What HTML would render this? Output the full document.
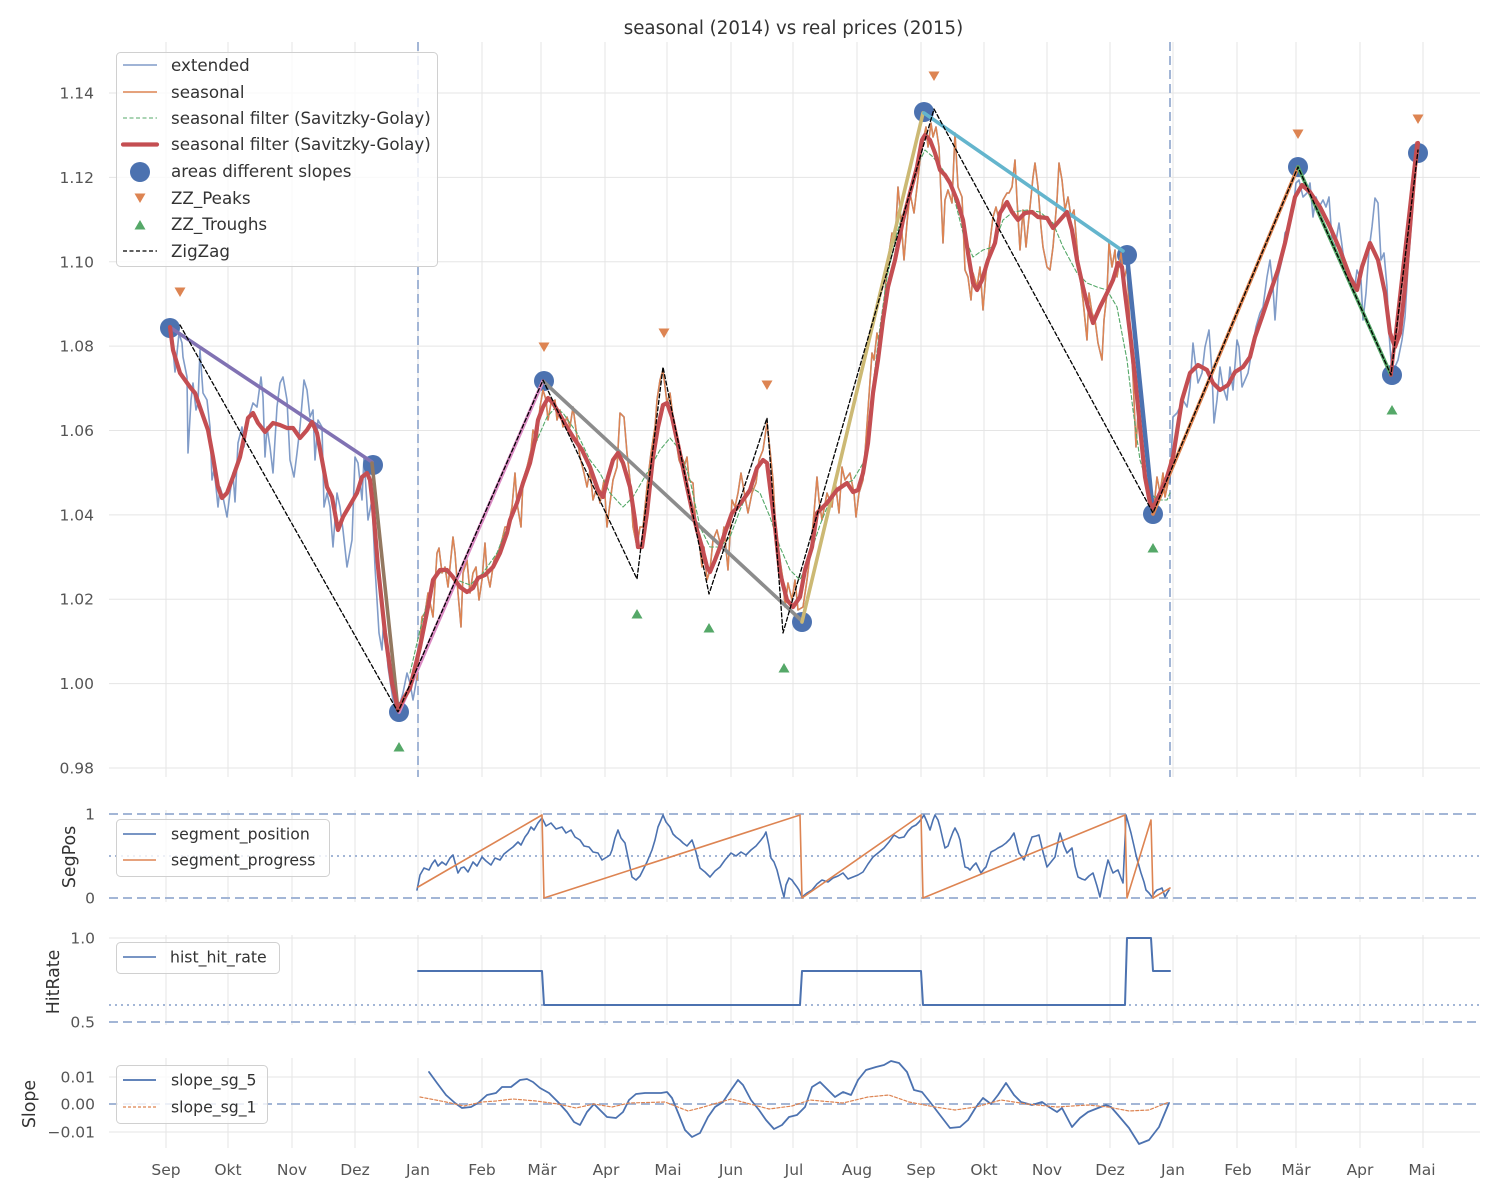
<!DOCTYPE html>
<html><head><meta charset="utf-8"><style>
html,body{margin:0;padding:0;background:#fff;}
svg{display:block;font-family:"DejaVu Sans","Liberation Sans",sans-serif;}
.tk{fill:#555;font-size:15.5px;}
.lg{fill:#333;font-size:16.7px;}
.lg2{fill:#333;font-size:15.7px;}
.yl{fill:#333;font-size:17.4px;}
.gr{stroke:#e5e5e5;stroke-width:1;}
.ds{stroke:#a3b6d6;stroke-width:2;stroke-dasharray:9,5;fill:none;}
.dt{stroke:#a3b6d6;stroke-width:2;stroke-dasharray:2,4;fill:none;}
polyline{fill:none;stroke-linejoin:round;stroke-linecap:round;}
</style></head><body>
<svg width="1500" height="1200" viewBox="0 0 1500 1200" xmlns="http://www.w3.org/2000/svg">
<rect width="1500" height="1200" fill="#fff"/>
<!-- title -->
<text x="793.5" y="34" text-anchor="middle" fill="#333" font-size="18.2px">seasonal (2014) vs real prices (2015)</text>

<!-- MAIN grid -->
<g class="gr">
<line x1="109" y1="93" x2="1480" y2="93"/><line x1="109" y1="177.4" x2="1480" y2="177.4"/><line x1="109" y1="261.8" x2="1480" y2="261.8"/><line x1="109" y1="346.1" x2="1480" y2="346.1"/><line x1="109" y1="430.5" x2="1480" y2="430.5"/><line x1="109" y1="514.9" x2="1480" y2="514.9"/><line x1="109" y1="599.2" x2="1480" y2="599.2"/><line x1="109" y1="683.6" x2="1480" y2="683.6"/><line x1="109" y1="768" x2="1480" y2="768"/>
</g>
<g id="vg">
<g class="gr">
<line x1="166" y1="42" x2="166" y2="777"/><line x1="228" y1="42" x2="228" y2="777"/><line x1="292" y1="42" x2="292" y2="777"/><line x1="355" y1="42" x2="355" y2="777"/><line x1="418" y1="42" x2="418" y2="777"/><line x1="482" y1="42" x2="482" y2="777"/><line x1="541" y1="42" x2="541" y2="777"/><line x1="605" y1="42" x2="605" y2="777"/><line x1="667" y1="42" x2="667" y2="777"/><line x1="731" y1="42" x2="731" y2="777"/><line x1="793" y1="42" x2="793" y2="777"/><line x1="857" y1="42" x2="857" y2="777"/><line x1="921" y1="42" x2="921" y2="777"/><line x1="984" y1="42" x2="984" y2="777"/><line x1="1047" y1="42" x2="1047" y2="777"/><line x1="1110" y1="42" x2="1110" y2="777"/><line x1="1173" y1="42" x2="1173" y2="777"/><line x1="1237" y1="42" x2="1237" y2="777"/><line x1="1296" y1="42" x2="1296" y2="777"/><line x1="1360" y1="42" x2="1360" y2="777"/><line x1="1423" y1="42" x2="1423" y2="777"/>
</g>
</g>
<!-- y ticks main -->
<g class="tk" text-anchor="end">
<text x="94" y="98.5">1.14</text><text x="94" y="183">1.12</text><text x="94" y="267.3">1.10</text><text x="94" y="351.6">1.08</text><text x="94" y="436">1.06</text><text x="94" y="520.4">1.04</text><text x="94" y="604.7">1.02</text><text x="94" y="689.1">1.00</text><text x="94" y="773.5">0.98</text>
</g>
<!-- vertical dashed -->
<line class="ds" x1="418" y1="42" x2="418" y2="777"/>
<line class="ds" x1="1170" y1="42" x2="1170" y2="777"/>

<!-- dots -->
<g fill="#4c72b0">
<circle cx="170" cy="328" r="10"/><circle cx="373" cy="465" r="10"/><circle cx="399" cy="712" r="10"/><circle cx="544" cy="381" r="10"/><circle cx="802" cy="622" r="10"/><circle cx="924" cy="112" r="10"/><circle cx="1127" cy="255" r="10"/><circle cx="1153" cy="514" r="10"/><circle cx="1298" cy="167" r="10"/><circle cx="1392" cy="375" r="10"/><circle cx="1418" cy="153" r="10"/>
</g>

<!-- extended (blue) -->
<polyline stroke="#4c72b0" stroke-opacity="0.7" stroke-width="1.6" points="170,327 173,350 175,372 177,353 179,333 182,343 183,357 187,377 188,453 191,400 193,383 196,410 198,403 200,350 203,393 207,400 210,427 212,480 214,470 216,487 218,507 220,487 223,497 227,517 230,493 233,473 235,502 238,443 242,427 244,447 247,427 250,413 253,403 257,407 261,377 263,397 265,457 267,427 270,447 273,473 277,407 280,383 283,377 287,400 290,460 294,477 297,453 300,427 304,380 307,390 310,417 313,410 315,460 318,420 322,427 324,507 327,493 330,507 333,547 337,493 340,507 343,530 347,567 352,540 355,457 358,463 362,500 364,457 368,520 372,500 375,567 379,633 382,650 384,613 388,667 393,700 398,710 403,693 407,673 410,683 413,700 417,677 420,640 422,617 425,613 428,593 433,617 437,553 439,548 442,573 445,567 448,587 453,537 455,553 458,593 461,627 463,573 467,560 470,593 473,573 476,567 479,600 482,580 485,543 487,573 490,587 494,560 498,553 502,540 505,527 508,527 512,507 515,473 517,503 521,527 523,480 527,467 531,450 533,430 537,440 540,407 543,390 546,400 548,420 551,403 555,400 557,420 560,410 563,427 567,417 570,427 573,407 577,437 580,457 584,473 587,487 590,470 593,500 597,487 600,503 604,480 607,527 610,503 613,480 617,467 620,413 624,417 627,453 630,480 633,527 637,547 640,527 643,527 647,487 651,453 655,427 657,400 660,380 663,370 667,403 670,393 673,417 676,440 679,460 683,470 687,457 689,480 693,483 696,527 699,540 702,567 704,547 707,580 710,570 713,540 717,530 721,547 724,527 728,570 732,500 735,507 738,493 741,473 745,497 748,513 752,493 756,483 759,460 763,450 767,423 770,450 773,480 776,533 779,553 783,580 785,607 788,583 792,600 795,580 798,610 803,607 807,580 811,547 814,513 817,477 819,500 822,520 827,493 832,507 835,480 839,513 842,467 845,480 850,473 854,493 856,517 859,493 863,480 865,453 868,410 872,353 874,360 877,333 880,347 883,320 886,280 889,253 892,233 895,243 898,187 901,220 904,260 907,223 910,193 914,213 917,187 920,160 923,140 926,127 928,147 931,123 933,137 936,127 939,147 943,243 945,200 948,190 952,203 955,133 958,187 962,197 965,270 968,277 971,300 973,273 977,287 980,267 983,310 986,273 989,250 993,217 996,207 999,220 1003,200 1007,193 1009,193 1012,187 1015,160 1017,200 1020,250 1023,210 1026,247 1029,217 1033,177 1035,163 1038,187 1041,227 1043,247 1047,267 1050,270 1053,247 1057,200 1059,163 1062,180 1065,210 1068,197 1071,217 1074,210 1077,247 1080,277 1083,300 1087,340 1089,293 1092,313 1095,320 1098,343 1102,360 1104,320 1107,293 1109,243 1112,267 1115,250 1117,277 1121,253 1124,280 1127,267 1130,327 1133,377 1136,447 1138,413 1142,447 1145,467 1148,493 1152,503 1155,497 1157,477 1160,493 1163,473 1165,497 1168,483 1170,483 1173,417 1177,413 1180,407 1183,400 1187,407 1190,387 1193,343 1195,360 1198,383 1202,373 1205,347 1209,330 1212,373 1214,423 1217,400 1220,367 1223,387 1227,400 1230,367 1233,390 1237,340 1239,347 1242,387 1245,380 1248,373 1252,350 1256,327 1260,313 1263,307 1267,277 1270,260 1273,287 1275,320 1278,277 1282,260 1285,233 1289,227 1293,210 1296,183 1299,180 1303,197 1307,193 1310,183 1313,217 1316,197 1319,207 1323,200 1326,207 1329,197 1332,240 1335,247 1339,223 1343,253 1347,273 1351,280 1354,293 1357,270 1361,280 1363,320 1366,293 1369,250 1372,227 1375,198 1378,203 1381,260 1384,253 1387,287 1389,333 1392,373 1395,367 1398,360 1402,340 1405,317 1408,267 1412,217 1415,173 1417,153"/>

<!-- seasonal (orange) -->
<polyline stroke="#dd8452" stroke-width="1.5" points="417,680 420,640 422,617 425,613 428,593 433,617 437,553 439,548 442,573 445,567 448,587 453,537 455,553 458,593 461,627 463,573 467,560 470,593 473,573 476,567 479,600 482,580 485,543 487,573 490,587 494,560 498,553 502,540 505,527 508,527 512,507 515,473 517,503 521,527 523,480 527,467 531,450 533,430 537,440 540,407 543,390 546,400 548,420 551,403 555,400 557,420 560,410 563,427 567,417 570,427 573,407 577,437 580,457 584,473 587,487 590,470 593,500 597,487 600,503 604,480 607,527 610,503 613,480 617,467 620,413 624,417 627,453 630,480 633,527 637,547 640,527 643,527 647,487 651,453 655,427 657,400 660,380 663,370 667,403 670,393 673,417 676,440 679,460 683,470 687,457 689,480 693,483 696,527 699,540 702,567 704,547 707,580 710,570 713,540 717,530 721,547 724,527 728,570 732,500 735,507 738,493 741,473 745,497 748,513 752,493 756,483 759,460 763,450 767,423 770,450 773,480 776,533 779,553 783,580 785,607 788,583 792,600 795,580 798,610 803,607 807,580 811,547 814,513 817,477 819,500 822,520 827,493 832,507 835,480 839,513 842,467 845,480 850,473 854,493 856,517 859,493 863,480 865,453 868,410 872,353 874,360 877,333 880,347 883,320 886,280 889,253 892,233 895,243 898,187 901,220 904,260 907,223 910,193 914,213 917,187 920,160 923,140 926,127 928,147 931,123 933,137 936,127 939,147 943,243 945,200 948,190 952,203 955,133 958,187 962,197 965,270 968,277 971,300 973,273 977,287 980,267 983,310 986,273 989,250 993,217 996,207 999,220 1003,200 1007,193 1009,193 1012,187 1015,160 1017,200 1020,250 1023,210 1026,247 1029,217 1033,177 1035,163 1038,187 1041,227 1043,247 1047,267 1050,270 1053,247 1057,200 1059,163 1062,180 1065,210 1068,197 1071,217 1074,210 1077,247 1080,277 1083,300 1087,340 1089,293 1092,313 1095,320 1098,343 1102,360 1104,320 1107,293 1109,243 1112,267 1115,250 1117,277 1121,253 1124,280 1127,267 1130,327 1133,377 1136,447 1138,413 1142,447 1145,467 1148,493 1152,503 1155,497 1157,477 1160,493 1163,473 1165,497 1168,483 1170,460"/>

<!-- green dashed SG -->
<polyline stroke="#55a868" stroke-width="1.1" stroke-dasharray="4,2.5" points="410,673 420,630 433,580 443,570 457,580 470,585 483,573 497,553 510,520 523,480 537,440 547,417 555,408 563,413 577,433 590,460 600,473 610,493 623,507 633,497 647,473 660,450 670,438 680,450 690,480 700,527 710,547 720,547 730,537 740,510 750,487 760,493 770,517 780,547 790,570 800,580 810,555 820,525 830,500 840,487 853,480 865,460 872,393 880,327 887,277 897,233 907,200 917,167 925,150 933,157 943,170 953,193 963,233 973,257 983,250 993,247 1003,220 1013,212 1027,210 1040,212 1053,223 1063,247 1077,273 1087,283 1097,287 1107,290 1117,307 1127,360 1133,410 1140,460 1150,493 1158,500 1167,500 1170,493"/>

<!-- segments -->
<g stroke-width="3.6" stroke-linecap="round">
<line x1="171" y1="328" x2="372" y2="462" stroke="#8172b3"/>
<line x1="372" y1="463" x2="398" y2="710" stroke="#937860"/>
<line x1="399" y1="712" x2="543" y2="381" stroke="#da8bc3"/>
<line x1="544" y1="382" x2="802" y2="621" stroke="#8c8c8c"/>
<line x1="802" y1="622" x2="923" y2="113" stroke="#ccb974"/>
<line x1="924" y1="113" x2="1123" y2="251" stroke="#64b5cd"/>
<line x1="1127" y1="256" x2="1153" y2="513" stroke="#4c72b0" stroke-width="4.5"/>
<line x1="1153" y1="514" x2="1298" y2="167" stroke="#dd8452"/>
<line x1="1298" y1="167" x2="1391" y2="375" stroke="#55a868"/>
<line x1="1391" y1="375" x2="1417" y2="143" stroke="#c44e52"/>
</g>

<!-- red SG thick -->
<polyline stroke="#c44e52" stroke-width="4.2" points="170,327 173,350 180,373 190,387 195,393 202,413 208,430 213,457 218,487 222,498 227,493 233,477 240,457 245,433 248,418 253,413 258,423 265,432 273,423 280,425 287,428 293,428 300,438 307,430 312,422 317,433 322,460 327,487 332,497 338,530 343,517 350,505 357,493 362,477 367,473 370,480 373,507 378,567 385,633 392,683 398,710 404,698 410,688 420,647 428,607 433,580 440,570 447,570 453,577 460,587 467,592 473,588 478,578 485,575 493,567 500,553 507,533 510,520 517,503 523,483 530,463 535,440 538,420 543,407 548,398 553,403 560,415 567,427 573,437 582,450 590,467 598,490 603,497 608,477 613,460 618,453 623,463 630,487 635,520 638,547 642,547 647,513 653,457 658,427 663,405 667,403 672,417 677,440 682,463 687,487 692,510 697,530 702,547 707,567 710,572 715,560 720,547 727,527 732,513 737,508 743,500 750,490 757,468 763,460 767,463 770,487 775,527 780,573 787,600 793,607 800,597 805,570 812,547 817,513 827,503 837,490 847,483 853,492 858,490 863,473 868,443 873,393 878,360 883,320 888,287 895,260 903,220 910,193 917,167 922,140 925,135 930,140 935,153 940,170 945,175 950,183 957,200 963,220 968,253 973,283 977,290 982,280 988,260 995,243 1000,213 1007,202 1012,212 1018,220 1025,213 1032,212 1038,217 1047,218 1053,228 1060,220 1067,212 1072,230 1077,260 1083,287 1088,307 1093,323 1100,307 1107,293 1113,280 1118,263 1122,267 1125,293 1130,333 1135,377 1140,427 1145,477 1150,503 1153,508 1160,493 1167,477 1173,457 1182,400 1190,373 1198,365 1207,370 1213,383 1220,390 1228,385 1235,372 1243,367 1250,357 1255,337 1262,317 1270,293 1278,270 1285,243 1290,220 1295,197 1302,185 1310,192 1320,207 1330,227 1340,250 1350,277 1357,290 1362,267 1370,243 1378,260 1385,293 1390,333 1395,347 1400,333 1405,287 1410,227 1415,167 1418,143"/>

<!-- zigzag -->
<polyline stroke="#000" stroke-width="1.3" stroke-dasharray="4,2.5" stroke-linecap="butt" points="180,325 398,712 543,380 637,579 663,367 709,594 767,418 783,633 934,109 1153,513 1298,167 1391,375 1418,150"/>

<!-- peaks -->
<g fill="#dd8452">
<path d="M174.5,287.5 L185.5,287.5 L180,297 Z"/>
<path d="M538.5,342.5 L549.5,342.5 L544,352 Z"/>
<path d="M658.5,328.5 L669.5,328.5 L664,338 Z"/>
<path d="M761.5,380.5 L772.5,380.5 L767,390 Z"/>
<path d="M928.5,71.5 L939.5,71.5 L934,81 Z"/>
<path d="M1292.5,129.5 L1303.5,129.5 L1298,139 Z"/>
<path d="M1412.5,114.5 L1423.5,114.5 L1418,124 Z"/>
</g>
<!-- troughs -->
<g fill="#55a868">
<path d="M393.5,751.5 L404.5,751.5 L399,742 Z"/>
<path d="M631.5,618.5 L642.5,618.5 L637,609 Z"/>
<path d="M703.5,632.5 L714.5,632.5 L709,623 Z"/>
<path d="M778.5,672.5 L789.5,672.5 L784,663 Z"/>
<path d="M1147.5,552.5 L1158.5,552.5 L1153,543 Z"/>
<path d="M1386.5,414.5 L1397.5,414.5 L1392,405 Z"/>
</g>

<!-- main legend -->
<rect x="116.5" y="52.5" width="321" height="214" rx="4" fill="#fff" fill-opacity="0.8" stroke="#d0d0d0"/>
<line x1="123" y1="65" x2="157" y2="65" stroke="#4c72b0" stroke-opacity="0.7" stroke-width="1.6"/>
<line x1="123" y1="92" x2="157" y2="92" stroke="#dd8452" stroke-width="1.5"/>
<line x1="123" y1="118" x2="157" y2="118" stroke="#55a868" stroke-width="1.1" stroke-dasharray="4,2.5"/>
<line x1="123" y1="144.5" x2="157" y2="144.5" stroke="#c44e52" stroke-width="4.2" stroke-linecap="round"/>
<circle cx="140" cy="172" r="10" fill="#4c72b0"/>
<path d="M134.5,193.5 L145.5,193.5 L140,203 Z" fill="#dd8452"/>
<path d="M134.5,229.5 L145.5,229.5 L140,220 Z" fill="#55a868"/>
<line x1="123" y1="251" x2="157" y2="251" stroke="#000" stroke-width="1.3" stroke-dasharray="4,2.5"/>
<g class="lg">
<text x="171" y="71">extended</text>
<text x="171" y="98">seasonal</text>
<text x="171" y="124">seasonal filter (Savitzky-Golay)</text>
<text x="171" y="150">seasonal filter (Savitzky-Golay)</text>
<text x="171" y="177">areas different slopes</text>
<text x="171" y="204">ZZ_Peaks</text>
<text x="171" y="230">ZZ_Troughs</text>
<text x="171" y="257">ZigZag</text>
</g>

<!-- ===== SegPos panel ===== -->
<g class="gr">
<line x1="166" y1="810" x2="166" y2="902"/><line x1="228" y1="810" x2="228" y2="902"/><line x1="292" y1="810" x2="292" y2="902"/><line x1="355" y1="810" x2="355" y2="902"/><line x1="418" y1="810" x2="418" y2="902"/><line x1="482" y1="810" x2="482" y2="902"/><line x1="541" y1="810" x2="541" y2="902"/><line x1="605" y1="810" x2="605" y2="902"/><line x1="667" y1="810" x2="667" y2="902"/><line x1="731" y1="810" x2="731" y2="902"/><line x1="793" y1="810" x2="793" y2="902"/><line x1="857" y1="810" x2="857" y2="902"/><line x1="921" y1="810" x2="921" y2="902"/><line x1="984" y1="810" x2="984" y2="902"/><line x1="1047" y1="810" x2="1047" y2="902"/><line x1="1110" y1="810" x2="1110" y2="902"/><line x1="1173" y1="810" x2="1173" y2="902"/><line x1="1237" y1="810" x2="1237" y2="902"/><line x1="1296" y1="810" x2="1296" y2="902"/><line x1="1360" y1="810" x2="1360" y2="902"/><line x1="1423" y1="810" x2="1423" y2="902"/>
</g>
<line class="ds" x1="109" y1="814" x2="1480" y2="814"/>
<line class="ds" x1="109" y1="898" x2="1480" y2="898"/>
<line class="dt" x1="109" y1="856" x2="1480" y2="856"/>
<polyline stroke="#4c72b0" stroke-width="1.6" points="417,890 420,875 424,868 429,870 432,864 435,860 438,866 442,862 446,865 450,858 453,855 456,866 458,873 461,868 464,867 468,872 473,862 477,866 482,857 486,861 491,865 495,858 500,860 504,854 509,850 513,847 518,842 521,845 525,837 528,833 531,827 534,830 538,823 542,818 546,826 551,823 556,829 562,827 566,833 571,830 575,837 580,840 584,846 589,847 593,852 598,853 602,860 607,857 610,855 612,850 615,838 618,830 621,838 625,843 629,862 632,877 636,880 640,876 643,870 647,862 652,850 655,840 658,827 661,820 663,815 666,822 670,827 673,834 676,837 680,840 683,843 687,846 692,840 696,852 700,868 705,872 710,877 715,871 720,867 725,860 731,853 736,856 741,852 746,855 751,850 756,846 761,840 764,836 766,832 769,846 771,858 774,862 777,870 780,882 782,890 784,897 786,885 789,878 792,880 794,883 797,887 799,890 802,897 807,893 812,890 817,884 822,880 828,882 833,878 838,876 843,873 848,879 853,877 858,875 863,872 868,864 873,857 878,853 884,848 889,842 894,835 899,838 904,837 908,831 912,827 916,825 919,822 922,818 924,815 927,822 930,830 933,820 935,815 938,820 940,827 943,840 945,848 948,846 950,840 953,832 955,828 958,834 960,840 963,857 965,867 968,868 970,870 973,866 976,863 979,869 981,873 984,869 986,867 989,858 991,852 995,850 998,848 1002,846 1006,843 1010,839 1014,833 1017,845 1019,853 1022,857 1024,860 1028,848 1032,837 1036,836 1039,835 1043,852 1047,867 1051,862 1055,857 1058,842 1060,833 1064,846 1067,853 1070,850 1072,848 1075,866 1078,877 1082,879 1085,880 1089,876 1093,873 1097,886 1100,897 1104,877 1108,860 1111,868 1113,873 1116,871 1118,870 1121,878 1123,883 1125,840 1126,815 1128,822 1131,833 1134,846 1136,855 1139,866 1141,873 1144,882 1146,890 1149,893 1152,897 1155,892 1157,890 1160,889 1162,888 1164,894 1165,897 1167,893 1169,890"/>
<polyline stroke="#dd8452" stroke-width="1.6" points="418,887 542,815 544,898 800,815 802,898 921,815 923,898 1125,815 1127,898 1151,820 1153,898 1170,888"/>
<g class="tk" text-anchor="end"><text x="95" y="819.5">1</text><text x="95" y="903.5">0</text></g>
<text class="yl" transform="translate(75,857) rotate(-90)" text-anchor="middle">SegPos</text>
<rect x="116.5" y="819.5" width="213" height="57" rx="4" fill="#fff" fill-opacity="0.8" stroke="#d0d0d0"/>
<line x1="123" y1="834" x2="156" y2="834" stroke="#4c72b0" stroke-width="1.6"/>
<line x1="123" y1="860" x2="156" y2="860" stroke="#dd8452" stroke-width="1.6"/>
<g class="lg2"><text x="171" y="839.5">segment_position</text><text x="171" y="865.5">segment_progress</text></g>

<!-- ===== HitRate panel ===== -->
<g class="gr">
<line x1="109" y1="938" x2="1480" y2="938"/>
<line x1="166" y1="935" x2="166" y2="1025"/><line x1="228" y1="935" x2="228" y2="1025"/><line x1="292" y1="935" x2="292" y2="1025"/><line x1="355" y1="935" x2="355" y2="1025"/><line x1="418" y1="935" x2="418" y2="1025"/><line x1="482" y1="935" x2="482" y2="1025"/><line x1="541" y1="935" x2="541" y2="1025"/><line x1="605" y1="935" x2="605" y2="1025"/><line x1="667" y1="935" x2="667" y2="1025"/><line x1="731" y1="935" x2="731" y2="1025"/><line x1="793" y1="935" x2="793" y2="1025"/><line x1="857" y1="935" x2="857" y2="1025"/><line x1="921" y1="935" x2="921" y2="1025"/><line x1="984" y1="935" x2="984" y2="1025"/><line x1="1047" y1="935" x2="1047" y2="1025"/><line x1="1110" y1="935" x2="1110" y2="1025"/><line x1="1173" y1="935" x2="1173" y2="1025"/><line x1="1237" y1="935" x2="1237" y2="1025"/><line x1="1296" y1="935" x2="1296" y2="1025"/><line x1="1360" y1="935" x2="1360" y2="1025"/><line x1="1423" y1="935" x2="1423" y2="1025"/>
</g>
<line class="ds" x1="109" y1="1022" x2="1480" y2="1022"/>
<line class="dt" x1="109" y1="1005" x2="1480" y2="1005"/>
<polyline stroke="#4c72b0" stroke-width="2" points="418,971 542,971 544,1005 800,1005 802,971 921,971 923,1005 1125,1005 1127,938 1151,938 1153,971 1170,971"/>
<g class="tk" text-anchor="end"><text x="95" y="943.5">1.0</text><text x="95" y="1027.5">0.5</text></g>
<text class="yl" transform="translate(59,982) rotate(-90)" text-anchor="middle">HitRate</text>
<rect x="116.5" y="942.5" width="163" height="31" rx="4" fill="#fff" fill-opacity="0.8" stroke="#d0d0d0"/>
<line x1="123" y1="957" x2="156" y2="957" stroke="#4c72b0" stroke-width="1.6"/>
<text class="lg2" x="170" y="962.5">hist_hit_rate</text>

<!-- ===== Slope panel ===== -->
<g class="gr">
<line x1="109" y1="1077" x2="1480" y2="1077"/><line x1="109" y1="1132" x2="1480" y2="1132"/>
<line x1="166" y1="1058" x2="166" y2="1148"/><line x1="228" y1="1058" x2="228" y2="1148"/><line x1="292" y1="1058" x2="292" y2="1148"/><line x1="355" y1="1058" x2="355" y2="1148"/><line x1="418" y1="1058" x2="418" y2="1148"/><line x1="482" y1="1058" x2="482" y2="1148"/><line x1="541" y1="1058" x2="541" y2="1148"/><line x1="605" y1="1058" x2="605" y2="1148"/><line x1="667" y1="1058" x2="667" y2="1148"/><line x1="731" y1="1058" x2="731" y2="1148"/><line x1="793" y1="1058" x2="793" y2="1148"/><line x1="857" y1="1058" x2="857" y2="1148"/><line x1="921" y1="1058" x2="921" y2="1148"/><line x1="984" y1="1058" x2="984" y2="1148"/><line x1="1047" y1="1058" x2="1047" y2="1148"/><line x1="1110" y1="1058" x2="1110" y2="1148"/><line x1="1173" y1="1058" x2="1173" y2="1148"/><line x1="1237" y1="1058" x2="1237" y2="1148"/><line x1="1296" y1="1058" x2="1296" y2="1148"/><line x1="1360" y1="1058" x2="1360" y2="1148"/><line x1="1423" y1="1058" x2="1423" y2="1148"/>
</g>
<line class="ds" x1="109" y1="1104" x2="1480" y2="1104"/>
<polyline stroke="#4c72b0" stroke-width="1.8" points="429,1072 437,1083 446,1095 455,1103 462,1108 471,1107 478,1103 487,1095 496,1093 502,1087 511,1087 520,1080 527,1079 533,1082 540,1088 549,1093 558,1102 567,1112 574,1122 580,1125 587,1112 594,1104 600,1110 607,1117 616,1118 623,1112 629,1100 636,1094 645,1093 654,1093 661,1093 667,1092 672,1098 679,1115 685,1130 692,1137 700,1133 708,1117 715,1107 723,1102 731,1090 738,1080 743,1085 751,1100 759,1110 766,1120 774,1129 782,1125 789,1117 797,1115 805,1107 812,1087 820,1082 828,1090 835,1097 843,1092 851,1095 858,1080 866,1070 876,1067 884,1065 891,1061 899,1063 907,1072 914,1090 922,1092 930,1102 940,1115 950,1128 960,1127 968,1120 976,1107 983,1098 991,1104 998,1095 1006,1083 1014,1095 1021,1102 1032,1105 1042,1102 1049,1107 1057,1112 1062,1108 1072,1127 1080,1118 1088,1112 1098,1108 1106,1105 1111,1107 1118,1115 1129,1128 1139,1144 1149,1140 1159,1127 1169,1103"/>
<polyline stroke="#dd8452" stroke-width="1.2" stroke-dasharray="3,2" points="420,1097 446,1102 464,1106 482,1102 496,1101 513,1099 536,1101 558,1104 576,1108 594,1104 612,1107 629,1103 665,1102 688,1111 700,1108 731,1099 769,1109 792,1106 810,1100 843,1103 868,1097 889,1095 909,1102 935,1107 955,1110 976,1107 1001,1100 1027,1104 1057,1107 1088,1105 1108,1107 1129,1111 1149,1110 1169,1102"/>
<g class="tk" text-anchor="end"><text x="95" y="1082.5">0.01</text><text x="95" y="1109.5">0.00</text><text x="95" y="1137.5">−0.01</text></g>
<text class="yl" transform="translate(35,1104) rotate(-90)" text-anchor="middle">Slope</text>
<rect x="116.5" y="1065.5" width="151" height="58" rx="4" fill="#fff" fill-opacity="0.8" stroke="#d0d0d0"/>
<line x1="123" y1="1080" x2="156" y2="1080" stroke="#4c72b0" stroke-width="1.8"/>
<line x1="123" y1="1107" x2="156" y2="1107" stroke="#dd8452" stroke-width="1.2" stroke-dasharray="3,2"/>
<g class="lg2"><text x="171" y="1085.5">slope_sg_5</text><text x="171" y="1112.5">slope_sg_1</text></g>

<!-- x tick labels -->
<g class="tk" text-anchor="middle">
<text x="166" y="1175">Sep</text><text x="228" y="1175">Okt</text><text x="292" y="1175">Nov</text><text x="355" y="1175">Dez</text><text x="418" y="1175">Jan</text><text x="482" y="1175">Feb</text><text x="542" y="1175">Mär</text><text x="606" y="1175">Apr</text><text x="668" y="1175">Mai</text><text x="731" y="1175">Jun</text><text x="794" y="1175">Jul</text><text x="857" y="1175">Aug</text><text x="921" y="1175">Sep</text><text x="984" y="1175">Okt</text><text x="1047" y="1175">Nov</text><text x="1110" y="1175">Dez</text><text x="1173" y="1175">Jan</text><text x="1238" y="1175">Feb</text><text x="1296" y="1175">Mär</text><text x="1360" y="1175">Apr</text><text x="1422" y="1175">Mai</text>
</g>
</svg>
</body></html>
